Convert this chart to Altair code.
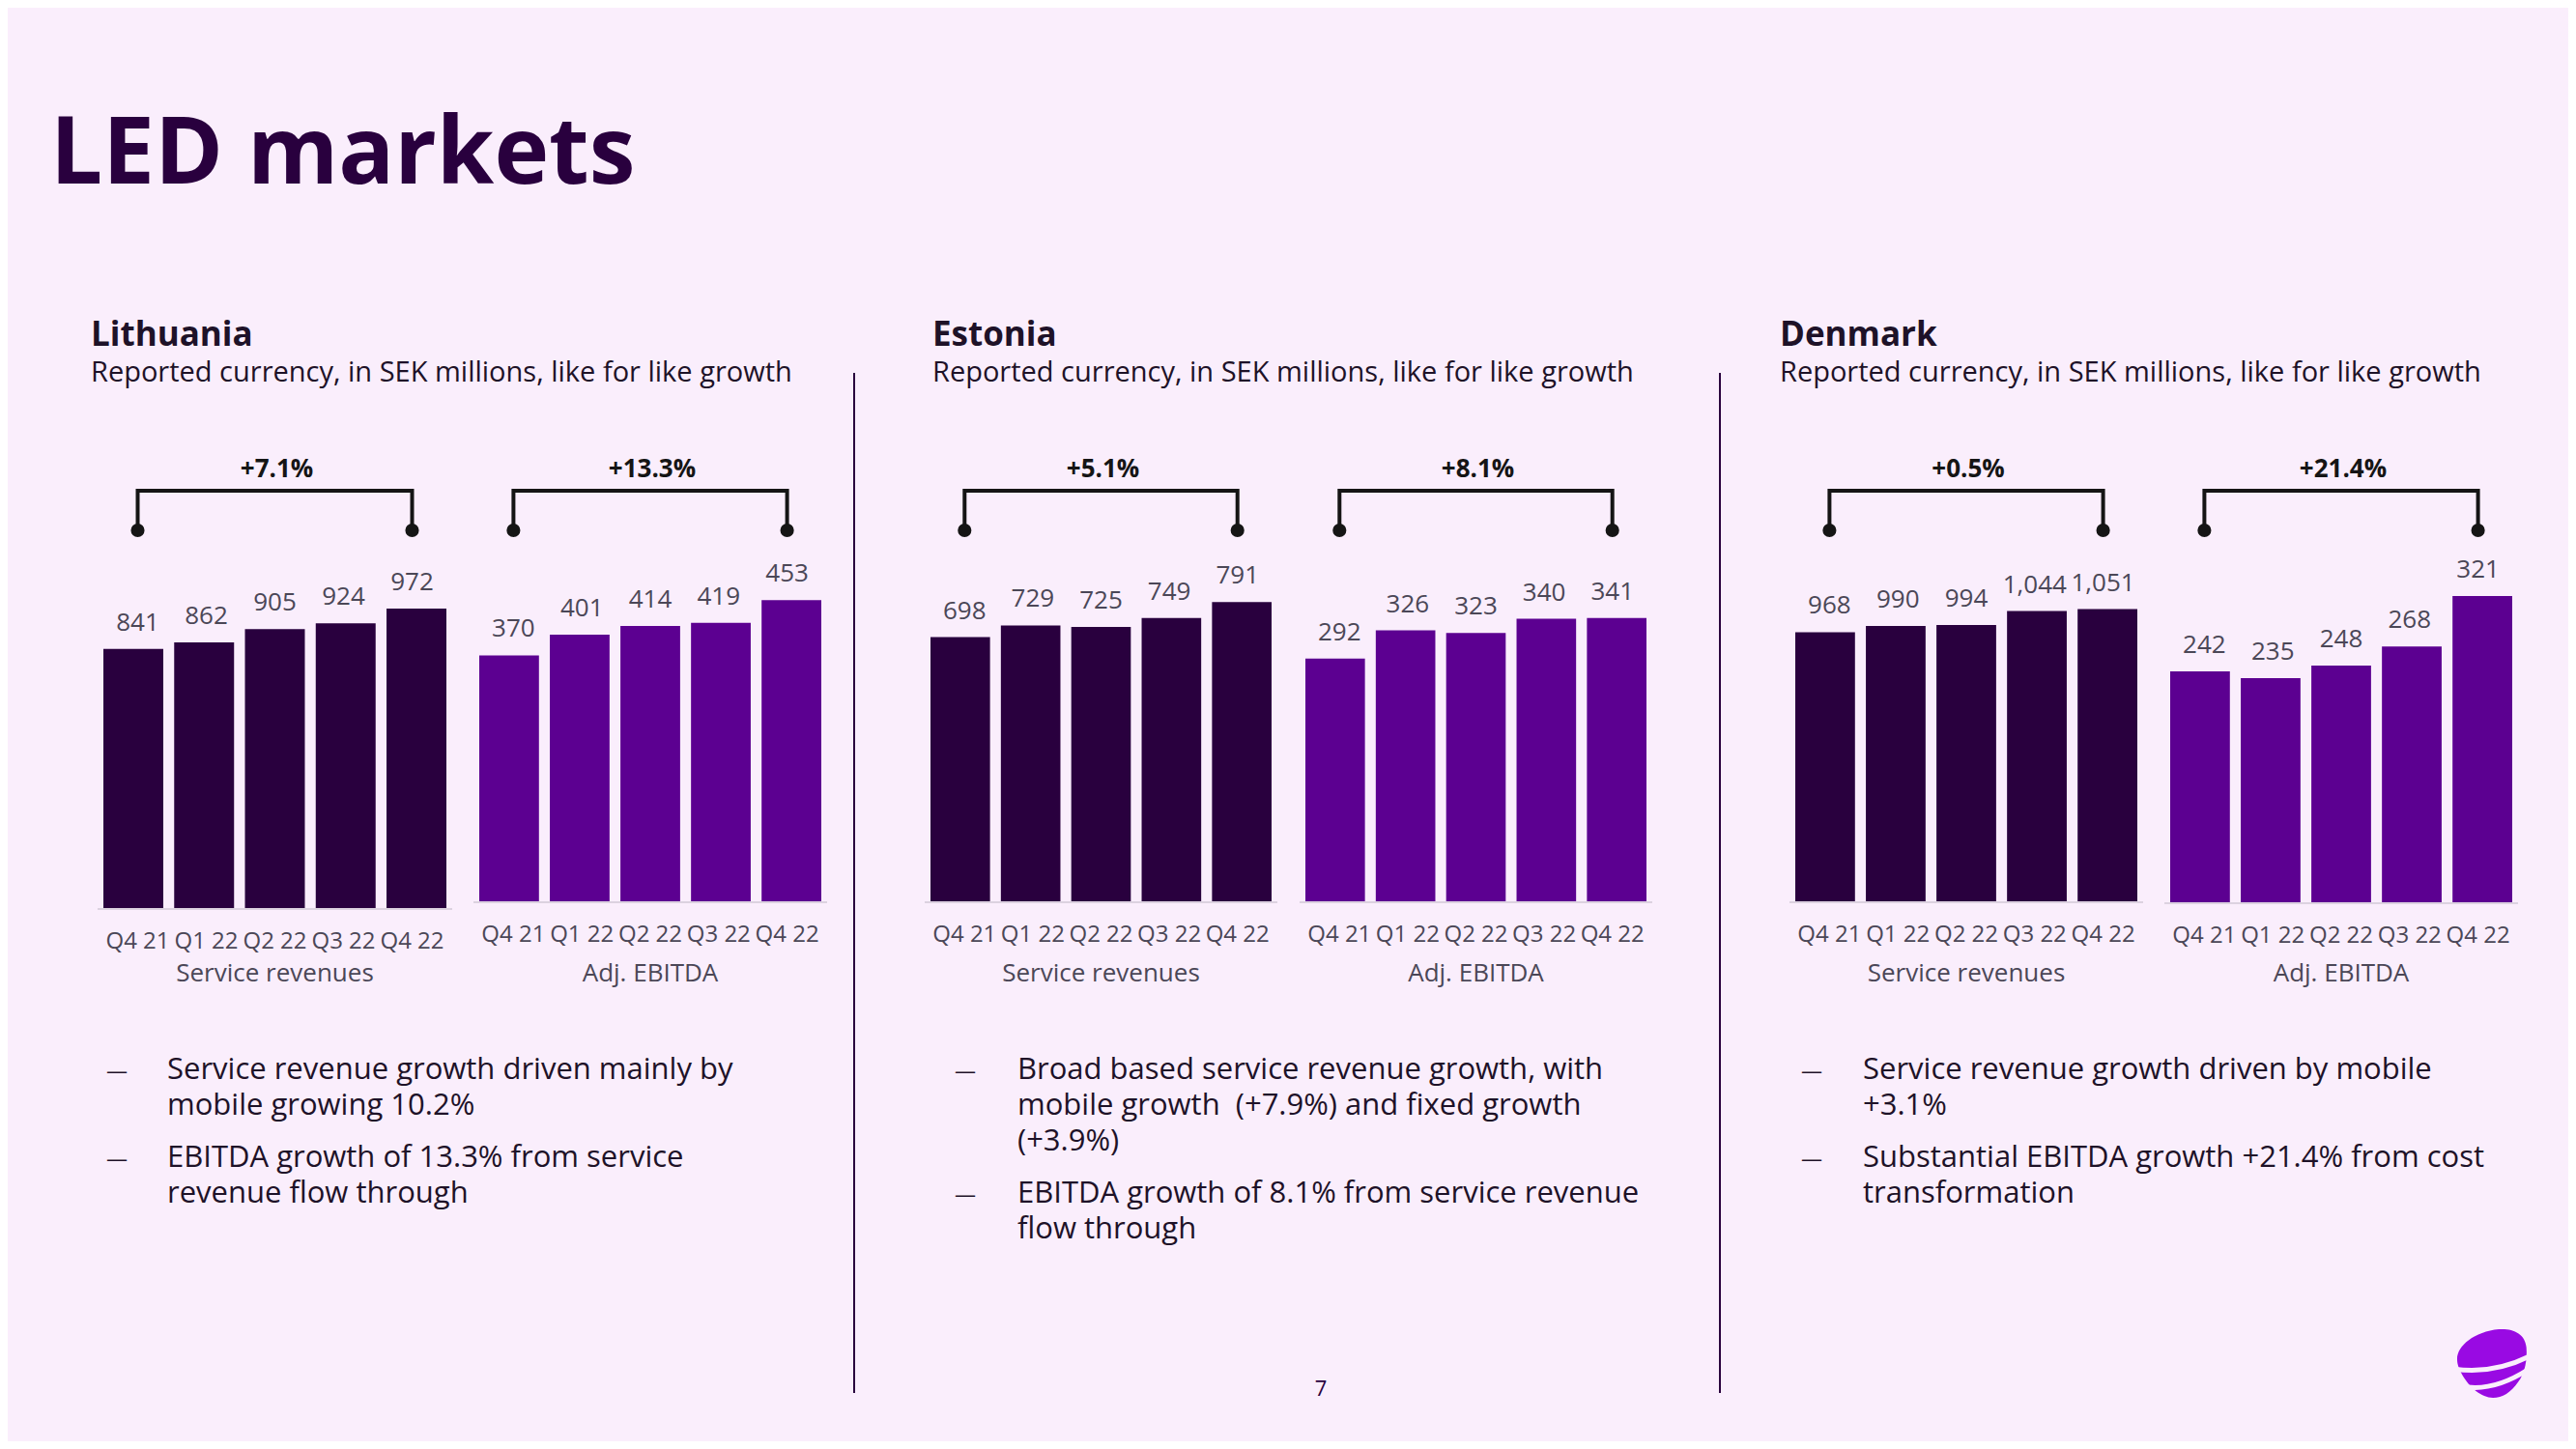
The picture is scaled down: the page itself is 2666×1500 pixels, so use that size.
import altair as alt
import pandas as pd

# ---------------- data ----------------
quarters = ["Q4 21", "Q1 22", "Q2 22", "Q3 22", "Q4 22"]
countries = ["Lithuania", "Estonia", "Denmark"]
metrics = ["Service revenues", "Adj. EBITDA"]

lithuania_service = [841, 862, 905, 924, 972]
lithuania_ebitda = [370, 401, 414, 419, 453]
estonia_service = [698, 729, 725, 749, 791]
estonia_ebitda = [292, 326, 323, 340, 341]
denmark_service = [968, 990, 994, 1044, 1051]
denmark_ebitda = [242, 235, 248, 268, 321]

growth_lithuania = ["+7.1%", "+13.3%"]
growth_estonia = ["+5.1%", "+8.1%"]
growth_denmark = ["+0.5%", "+21.4%"]

title_text = "LED markets"
subtitle_text = "Reported currency, in SEK millions, like for like growth"

bullets_lithuania = [
    ["Service revenue growth driven mainly by", "mobile growing 10.2%"],
    ["EBITDA growth of 13.3% from service", "revenue flow through"],
]
bullets_estonia = [
    ["Broad based service revenue growth, with", "mobile growth \u00a0(+7.9%) and fixed growth", "(+3.9%)"],
    ["EBITDA growth of 8.1% from service revenue", "flow through"],
]
bullets_denmark = [
    ["Service revenue growth driven by mobile", "+3.1%"],
    ["Substantial EBITDA growth +21.4% from cost", "transformation"],
]
page_number = "7"

# ---------------- style / layout ----------------
OFF = 8
W, H = 2650, 1484
BG = "#FAEEFC"
DARK = "#29003E"
EBIT = "#5C0091"
GRAY = "#4B4757"
INK = "#1E1228"
BLACK = "#151515"
FONT = "Open Sans"
LOGO = "#990AE3"

layers = []


def text_layer(text, x, y, size, color, weight="normal", align="left", line_height=None):
    mk = dict(align=align, baseline="alphabetic", fontSize=size, color=color,
              fontWeight=weight, font=FONT)
    if line_height:
        mk["lineBreak"] = "\n"
        mk["lineHeight"] = line_height
    return alt.Chart(pd.DataFrame({"t": [text]})).mark_text(**mk).encode(
        text="t:N", x=alt.value(x - OFF), y=alt.value(y - OFF))


def panel(values, x0, x1, base, dmax, color, glabel, metric):
    df = pd.DataFrame({"q": quarters, "v": values})
    xs = alt.Scale(domain=quarters, range=[x0 - OFF, x1 - OFF], paddingInner=0.154, paddingOuter=0)
    ys = alt.Scale(domain=[0, dmax], range=[base - OFF, base - OFF - 320], nice=False, zero=True)
    X = alt.X("q:N", scale=xs, axis=None)
    Y = alt.Y("v:Q", scale=ys, axis=None)
    out = []
    # baseline
    out.append(alt.Chart(df.head(1)).mark_rule(color="#DCD2E0", strokeWidth=2).encode(
        x=alt.value(x0 - OFF - 6), x2=alt.value(x1 - OFF + 6), y=alt.value(base - OFF + 1)))
    out.append(alt.Chart(df).mark_bar(color=color).encode(x=X, y=Y))
    out.append(alt.Chart(df).mark_text(dy=-19, baseline="alphabetic", fontSize=26, color=GRAY, font=FONT)
               .encode(x=X, y=Y, text=alt.Text("v:Q", format=",")))
    out.append(alt.Chart(df).mark_text(baseline="alphabetic", fontSize=24, color=GRAY, font=FONT)
               .encode(x=X, y=alt.value(base - OFF + 42), text="q:N"))
    mid = pd.DataFrame({"q": [quarters[2]], "g": [glabel], "m": [metric]})
    out.append(alt.Chart(mid).mark_text(baseline="alphabetic", fontSize=26, color=GRAY, font=FONT)
               .encode(x=X, y=alt.value(1016 - OFF), text="m:N"))
    out.append(alt.Chart(mid).mark_text(baseline="alphabetic", fontSize=26, fontWeight="bold",
                                        color=BLACK, font=FONT, dx=2)
               .encode(x=X, y=alt.value(494 - OFF), text="g:N"))
    br = pd.DataFrame({"q": [quarters[0], quarters[0], quarters[-1], quarters[-1]],
                       "h": [0, 1, 1, 0], "o": [0, 1, 2, 3]})
    out.append(alt.Chart(br).mark_line(color=BLACK, strokeWidth=4, strokeJoin="miter").encode(
        x=X, y=alt.Y("h:Q", scale=alt.Scale(domain=[0, 1], range=[549 - OFF, 508 - OFF]), axis=None),
        order="o:Q"))
    dots = pd.DataFrame({"q": [quarters[0], quarters[-1]]})
    out.append(alt.Chart(dots).mark_circle(size=200, color=BLACK, opacity=1).encode(
        x=X, y=alt.value(549 - OFF)))
    return out


# title
layers.append(text_layer(title_text, 52, 190, 96, DARK, weight="bold"))

# country headers
header_x = [94, 965, 1842]
for c, hx in zip(countries, header_x):
    layers.append(text_layer(c, hx, 358, 35, INK, weight="bold"))
    layers.append(text_layer(subtitle_text, hx, 395, 29, INK))

# dividers
for dx in [884, 1780]:
    layers.append(alt.Chart(pd.DataFrame({"a": [0]})).mark_rule(color=DARK, strokeWidth=2).encode(
        x=alt.value(dx - OFF), y=alt.value(386 - OFF), y2=alt.value(1442 - OFF)))

# panels
layers += panel(lithuania_service, 107, 462, 940, 1003, DARK, growth_lithuania[0], metrics[0])
layers += panel(lithuania_ebitda, 496, 850, 933, 465, EBIT, growth_lithuania[1], metrics[1])
layers += panel(estonia_service, 963, 1316, 933, 817, DARK, growth_estonia[0], metrics[0])
layers += panel(estonia_ebitda, 1351, 1704, 933, 372, EBIT, growth_estonia[1], metrics[1])
layers += panel(denmark_service, 1858, 2212, 933, 1112, DARK, growth_denmark[0], metrics[0])
layers += panel(denmark_ebitda, 2246, 2600, 934, 324, EBIT, growth_denmark[1], metrics[1])

# bullets
bullet_cols = [(110, 173), (988, 1053), (1864, 1928)]
for blist, (dxp, tx) in zip([bullets_lithuania, bullets_estonia, bullets_denmark], bullet_cols):
    y = 1117
    for lines in blist:
        layers.append(text_layer("\u2014", dxp, y - 1, 22, INK))
        layers.append(text_layer("\n".join(lines), tx, y, 31, INK, line_height=37))
        y += 37 * len(lines) + 17

# page number
layers.append(text_layer(page_number, 1367, 1445, 22, DARK, align="center"))

# logo
body = ("M -1 -0.11 C -1 -0.5 -0.5 -0.9 0.2 -0.97 C 0.6 -1.0 0.95 -0.85 0.99 -0.45 "
        "C 1.02 -0.1 0.95 0.3 0.75 0.55 C 0.55 0.85 0.3 1.0 0.03 1.0 "
        "C -0.3 1.0 -0.65 0.7 -0.85 0.35 C -0.95 0.15 -1 0.05 -1 -0.11 Z")
stripe1 = "M -1.1 0.17 Q 0.0 0.34 1.1 -0.2"
stripe2 = "M -0.9 0.66 Q 0.0 0.86 1.05 0.18"
logo_df = pd.DataFrame({"a": [0]})
layers.append(alt.Chart(logo_df).mark_point(shape=body, filled=True, color=LOGO, size=5184, opacity=1)
              .encode(x=alt.value(2579 - OFF), y=alt.value(1411 - OFF)))
for s in [stripe1, stripe2]:
    layers.append(alt.Chart(logo_df).mark_point(shape=s, filled=False, stroke=BG, strokeWidth=5,
                                                size=5184, opacity=1)
                  .encode(x=alt.value(2579 - OFF), y=alt.value(1411 - OFF)))

chart = alt.layer(*layers).resolve_scale(x="independent", y="independent").properties(
    width=W, height=H, background=BG, padding=0, autosize="none"
).configure_view(stroke=None)

chart.save("out.html", embed_options={"renderer": "svg", "actions": False})
